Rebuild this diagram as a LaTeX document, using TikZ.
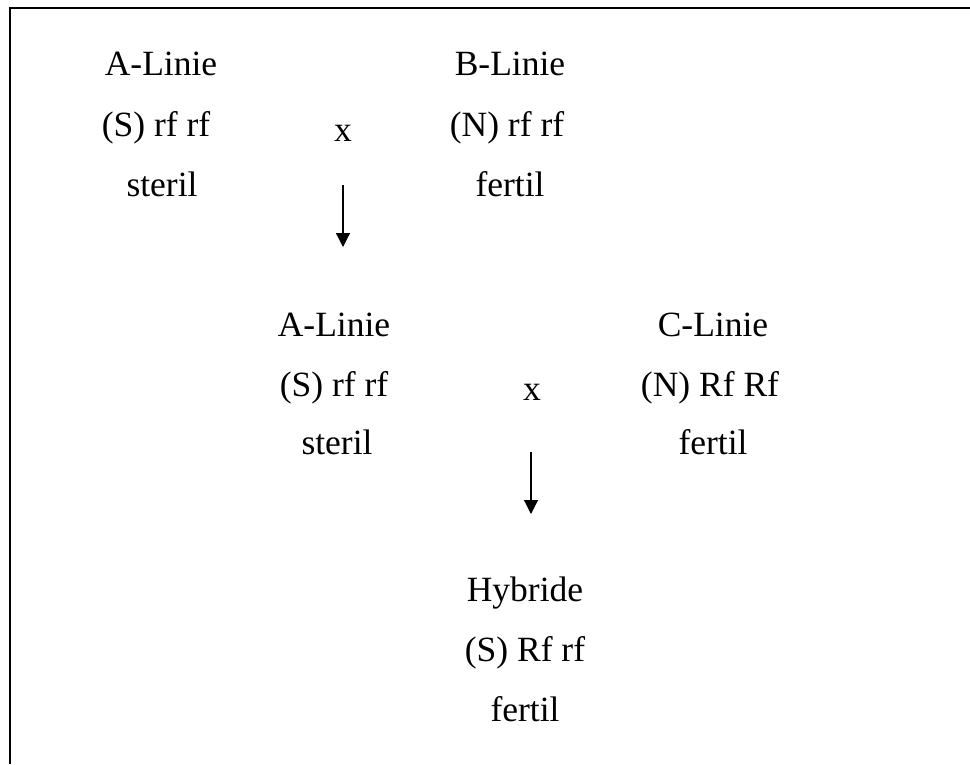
\documentclass[tikz,border=0pt]{standalone}
\usepackage{fontspec}
\setmainfont{Liberation Serif}
\usetikzlibrary{arrows.meta}
\begin{document}
\begin{tikzpicture}[x=1pt,y=-1pt,
  lbl/.style={anchor=base,inner sep=0pt,font=\fontsize{35.5}{42}\selectfont},
  arr/.style={line width=1.2pt,-{Triangle[width=14pt,length=14pt]}}]
\useasboundingbox (0,0) rectangle (970,764);
\draw[line width=1.6pt] (10,764) -- (10,8) -- (970,8);
% group 1
\node[lbl] (a1) at (161,75) {A-Linie};
\node[lbl] (a2) at (156,136) {(S) rf rf};
\node[lbl] (a3) at (162,196) {steril};
\node[lbl] (x1) at (343,141) {x};
\node[lbl] (b1) at (510,75) {B-Linie};
\node[lbl] (b2) at (507,136) {(N) rf rf};
\node[lbl] (b3) at (510,196) {fertil};
\coordinate (s1) at (343,185);
\coordinate (e1) at (343,247);
\draw[arr] (s1) -- (e1);
% group 2
\node[lbl] (c1) at (334,336) {A-Linie};
\node[lbl] (c2) at (334,396) {(S) rf rf};
\node[lbl] (c3) at (337,454) {steril};
\node[lbl] (x2) at (532,400) {x};
\node[lbl] (d1) at (713,336) {C-Linie};
\node[lbl] (d2) at (710,396) {(N) Rf Rf};
\node[lbl] (d3) at (713,454) {fertil};
\coordinate (s2) at (531,452);
\coordinate (e2) at (531,514);
\draw[arr] (s2) -- (e2);
% hybrid
\node[lbl] (h1) at (525,601) {Hybride};
\node[lbl] (h2) at (525,661) {(S) Rf rf};
\node[lbl] (h3) at (525,721) {fertil};
\end{tikzpicture}
\end{document}
